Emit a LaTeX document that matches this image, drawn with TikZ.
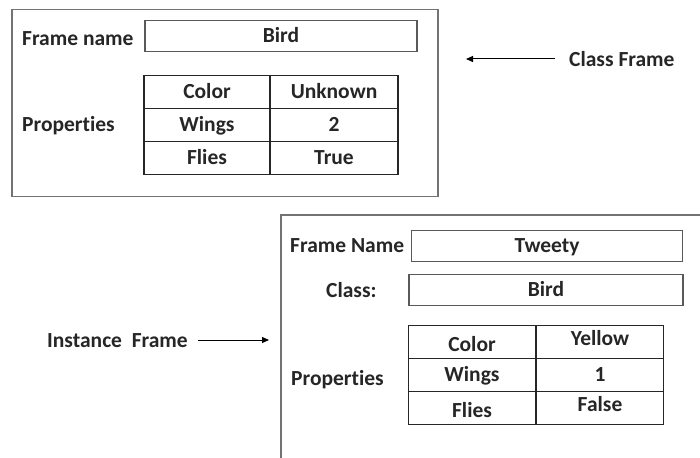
\documentclass[tikz,border=0pt]{standalone}
\usepackage{fontspec}
\setmainfont[Ligatures=NoCommon]{Carlito}
\usetikzlibrary{arrows.meta}

\tikzset{
	frame/.style={draw=black!55, line width=1.3pt, minimum width=#1},
	valbox/.style={draw=black!65, line width=1.2pt, minimum width=#1, minimum height=31pt, text height=14pt, text depth=1pt},
	cell/.style={draw=black!85, line width=1.7pt, minimum width=#1, minimum height=33pt, text height=14pt, text depth=1pt},
	lower/.style={text height=20pt, text depth=1pt},
	upper/.style={text height=14pt, text depth=7pt},
	lbl/.style={font=\bfseries\fontsize{21.5}{24}\selectfont, text=black!85}
}

\begin{document}
\begin{tikzpicture}[x=1pt, y=-1pt, lbl, arrows={-Triangle[length=7pt,width=6pt]}, inner sep=0pt]
	\useasboundingbox[fill=white] (0,0) rectangle (700,457);

	% class frame
	\node [frame=426pt, minimum height=187pt] (classframe) at (225,103) {};
	\node [anchor=west] (cfname) at (22,39) {Frame name};
	\node [valbox=272pt] (cfbird) at (281,36) {Bird};
	\node [anchor=west] (cfprops) at (22,126) {Properties};
	\node [cell=126pt] (cfc1) at (207,92) {Color};
	\node [cell=128pt] (cfc2) at (334,92) {Unknown};
	\node [cell=126pt] (cfw1) at (207,125) {Wings};
	\node [cell=128pt] (cfw2) at (334,125) {2};
	\node [cell=126pt] (cff1) at (207,158) {Flies};
	\node [cell=128pt] (cff2) at (334,158) {True};

	\node [anchor=west] (classlbl) at (569,59) {Class Frame};
	\coordinate (classtip) at (466,59);
	\draw [line width=1pt] (classlbl.west) ++(-14,0) coordinate (classtail) (classtail) -- (classtip);

	% instance frame
	\node [frame=430pt, minimum height=262pt] (instframe) at (496,346) {};
	\node [anchor=west] (ifname) at (290,246) {Frame Name};
	\node [valbox=271pt] (iftweety) at (547,246) {Tweety};
	\node [anchor=west] (ifclass) at (326,290) {Class:};
	\node [valbox=274pt] (ifbird) at (546,290) {Bird};
	\node [anchor=west] (ifprops) at (291,380) {Properties};
	\node [cell=127pt, lower] (ifc1) at (472,342) {Color};
	\node [cell=127pt, upper] (ifc2) at (600,342) {Yellow};
	\node [cell=127pt] (ifw1) at (472,375) {Wings};
	\node [cell=127pt] (ifw2) at (600,375) {1};
	\node [cell=127pt, lower] (iff1) at (472,408) {Flies};
	\node [cell=127pt, upper] (iff2) at (600,408) {False};

	\node [anchor=west] (instlbl) at (47,341) {Instance\ \ Frame};
	\coordinate (insttip) at (269,340);
	\draw [line width=1pt] (instlbl.east) ++(10,-1) coordinate (insttail) (insttail) -- (insttip);
\end{tikzpicture}
\end{document}
